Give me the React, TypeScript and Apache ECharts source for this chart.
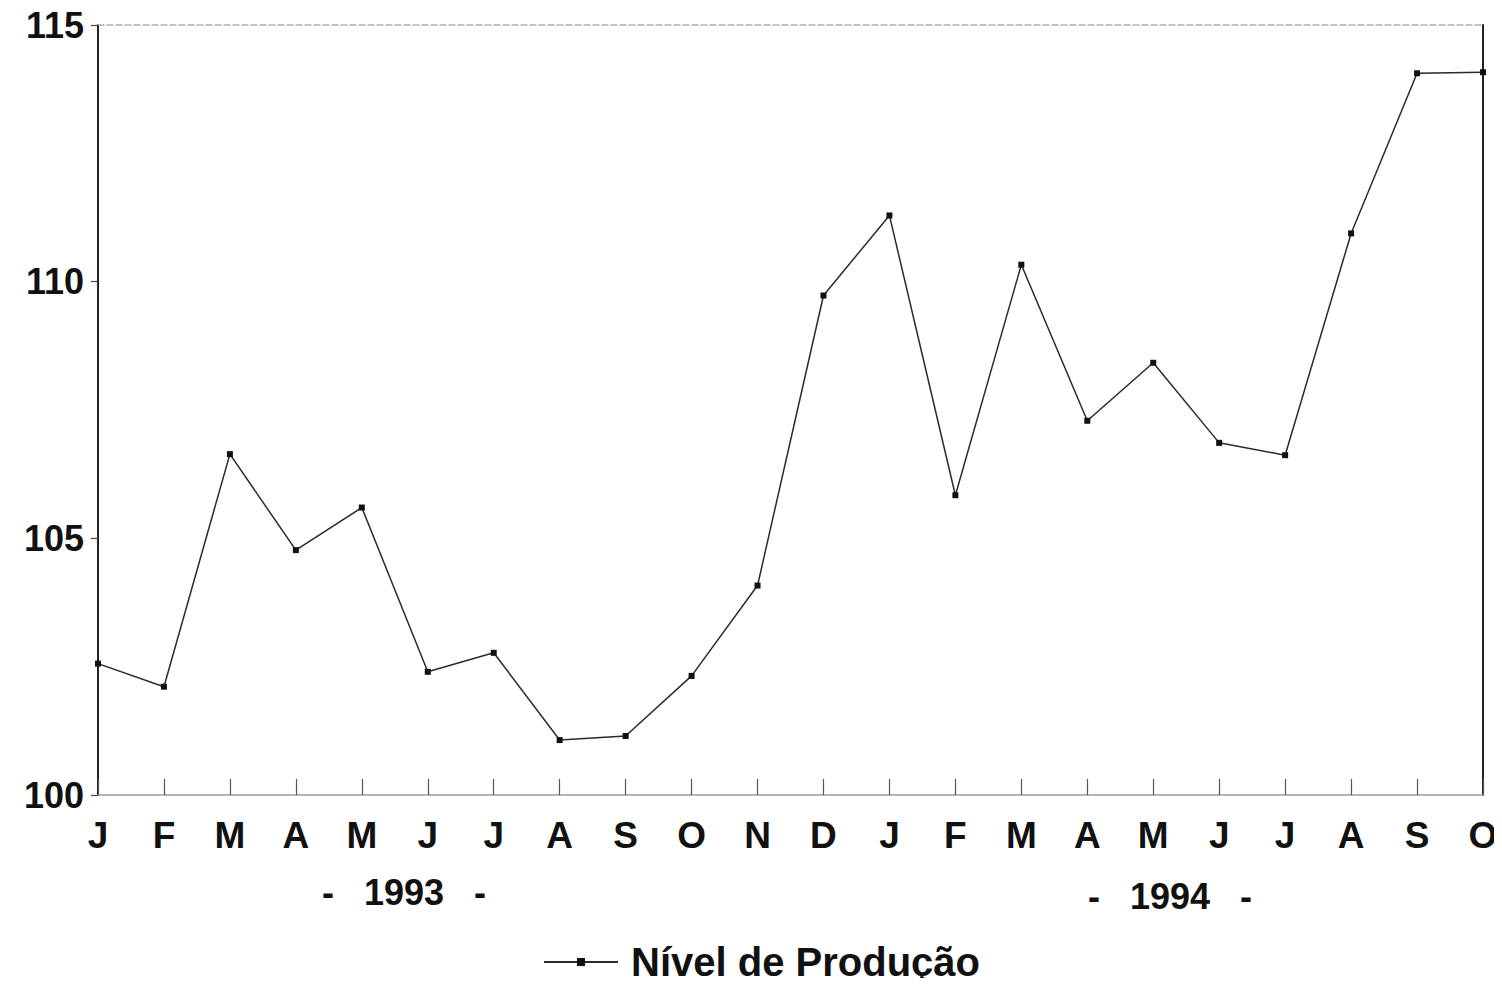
import React, { useEffect, useRef } from "react";
import * as echarts from "echarts";

const months = ["J", "F", "M", "A", "M", "J", "J", "A", "S", "O", "N", "D", "J", "F", "M", "A", "M", "J", "J", "A", "S", "O"];
const producao = [102.56, 102.11, 106.64, 104.77, 105.6, 102.4, 102.77, 101.07, 101.15, 102.32, 104.08, 109.73, 111.29, 105.84, 110.33, 107.29, 108.42, 106.86, 106.62, 110.94, 114.06, 114.08];
const yTicks = [100, 105, 110, 115];
const seriesName = "Nível de Produção";
const yearLabels = ["-   1993   -", "-   1994   -"];

const FONT = "'Liberation Sans', Arial, Helvetica, sans-serif";

export default function App() {
  const ref = useRef<HTMLDivElement>(null);
  useEffect(() => {
    if (!ref.current) return;
    const chart = echarts.init(ref.current, null, { renderer: "svg" });
    chart.setOption({
      animation: false,
      backgroundColor: "#ffffff",
      grid: { left: 98, right: 19, top: 25, bottom: 191, containLabel: false },
      xAxis: [
        {
          type: "category",
          data: months,
          boundaryGap: false,
          position: "bottom",
          axisLine: { show: true, lineStyle: { color: "#9a9a9a", width: 1.5 } },
          axisTick: { show: true, inside: true, length: 16, lineStyle: { color: "#555", width: 1.2 }, alignWithLabel: true },
          axisLabel: { color: "#111", fontFamily: FONT, fontWeight: "bold", fontSize: 37, margin: 22, interval: 0 },
          splitLine: { show: false },
        },
        {
          type: "category",
          data: months,
          boundaryGap: false,
          position: "top",
          axisLine: { show: true, lineStyle: { color: "#b0b0b0", width: 1.5, type: "dashed" } },
          axisTick: { show: false },
          axisLabel: { show: false },
        },
      ],
      yAxis: [
        {
          type: "value",
          min: yTicks[0],
          max: yTicks[yTicks.length - 1],
          interval: 5,
          position: "left",
          axisLine: { show: true, lineStyle: { color: "#222", width: 2 } },
          axisTick: { show: true, length: 7, lineStyle: { color: "#444", width: 1.2 } },
          axisLabel: { color: "#111", fontFamily: FONT, fontWeight: "bold", fontSize: 36, margin: 14 },
          splitLine: { show: false },
        },
        {
          type: "value",
          min: yTicks[0],
          max: yTicks[yTicks.length - 1],
          interval: 5,
          position: "right",
          axisLine: { show: true, lineStyle: { color: "#222", width: 2 } },
          axisTick: { show: false },
          axisLabel: { show: false },
          splitLine: { show: false },
        },
      ],
      legend: {
        data: [seriesName],
        left: 538,
        top: 937,
        itemWidth: 74,
        itemHeight: 10,
        itemGap: 10,
        textStyle: { color: "#111", fontFamily: FONT, fontWeight: "bold", fontSize: 40, padding: [0, 0, 0, 8] },
      },
      graphic: [
        {
          type: "text",
          left: 322,
          top: 874,
          style: { text: yearLabels[0], fill: "#111", font: `bold 36px ${FONT}` },
        },
        {
          type: "text",
          left: 1088,
          top: 878,
          style: { text: yearLabels[1], fill: "#111", font: `bold 36px ${FONT}` },
        },
      ],
      series: [
        {
          name: seriesName,
          type: "line",
          data: producao,
          symbol: "rect",
          symbolSize: 6,
          lineStyle: { color: "#2a2a2a", width: 1.5 },
          itemStyle: { color: "#111" },
          emphasis: { disabled: true },
        },
      ],
    });
    return () => chart.dispose();
  }, []);
  return <div ref={ref} style={{ width: 1502, height: 986, margin: "-8px" }} />;
}
